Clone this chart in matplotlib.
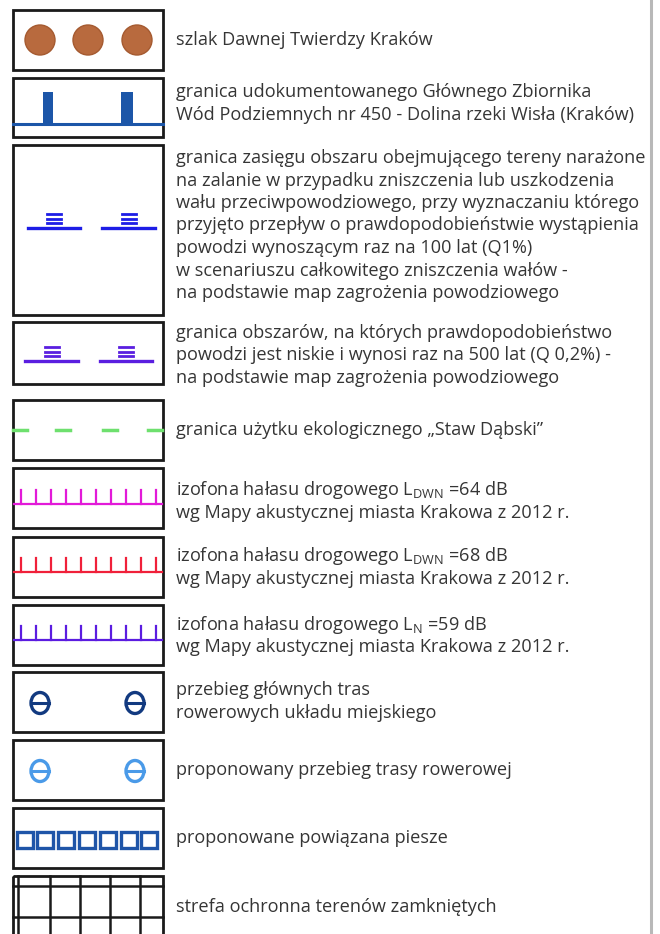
import matplotlib
matplotlib.use("Agg")
from matplotlib import pyplot as plt
from matplotlib.patches import Rectangle, Circle, Ellipse

plt.rcParams['font.family'] = ['Open Sans', 'DejaVu Sans']

# legend entries, one list of text lines per box
labels = [
    ["szlak Dawnej Twierdzy Kraków"],
    ["granica udokumentowanego Głównego Zbiornika",
     "Wód Podziemnych nr 450 - Dolina rzeki Wisła (Kraków)"],
    ["granica zasięgu obszaru obejmującego tereny narażone",
     "na zalanie w przypadku zniszczenia lub uszkodzenia",
     "wału przeciwpowodziowego, przy wyznaczaniu którego",
     "przyjęto przepływ o prawdopodobieństwie wystąpienia",
     "powodzi wynoszącym raz na 100 lat (Q1%)",
     "w scenariuszu całkowitego zniszczenia wałów -",
     "na podstawie map zagrożenia powodziowego"],
    ["granica obszarów, na których prawdopodobieństwo",
     "powodzi jest niskie i wynosi raz na 500 lat (Q 0,2%) -",
     "na podstawie map zagrożenia powodziowego"],
    ["granica użytku ekologicznego „Staw Dąbski”"],
    ["izofona hałasu drogowego $\\mathregular{L_{DWN}}$ =64 dB",
     "wg Mapy akustycznej miasta Krakowa z 2012 r."],
    ["izofona hałasu drogowego $\\mathregular{L_{DWN}}$ =68 dB",
     "wg Mapy akustycznej miasta Krakowa z 2012 r."],
    ["izofona hałasu drogowego $\\mathregular{L_{N}}$ =59 dB",
     "wg Mapy akustycznej miasta Krakowa z 2012 r."],
    ["przebieg głównych tras",
     "rowerowych układu miejskiego"],
    ["proponowany przebieg trasy rowerowej"],
    ["proponowane powiązana piesze"],
    ["strefa ochronna terenów zamkniętych"],
]

# box top / bottom in pixels
box_top = [10, 78, 145, 322, 400, 468, 537, 605, 672, 740, 808, 876]
box_bot = [70, 137, 315, 384, 460, 528, 597, 665, 732, 800, 868, 960]
text_y0 = [40, 92, 158, 333, 430, 490, 556, 625, 690, 770, 838, 907]

BX0, BX1 = 13, 163
TX = 176
LINE = 22.5

fig = plt.figure(figsize=(6.6, 9.34), dpi=100)
ax = fig.add_axes([0, 0, 1, 1])
ax.set_xlim(0, 660)
ax.set_ylim(934, 0)
ax.axis('off')

# frames
for t, b in zip(box_top, box_bot):
    ax.add_patch(Rectangle((BX0, t), BX1 - BX0, b - t, fill=False,
                           edgecolor='#1a1a1a', linewidth=2.0))

# texts
for lines, y0 in zip(labels, text_y0):
    for i, s in enumerate(lines):
        ax.text(TX, y0 + i * LINE, s, fontsize=13.1, color='#353535',
                va='center', ha='left')

# right grey rule
ax.plot([651, 651], [0, 934], color='#b8b8b8', linewidth=2.2)

# 1: fortress trail dots
for x in [40, 88, 137]:
    ax.add_patch(Circle((x, 40), 15, facecolor='#b86a3e', edgecolor='#a55a30', linewidth=1))

# 2: groundwater reservoir boundary
ax.plot([BX0, BX1], [124, 124], color='#1c56a8', linewidth=2.2)
for x0, x1 in [(43, 53), (121, 133)]:
    ax.add_patch(Rectangle((x0, 92), x1 - x0, 32, facecolor='#1c56a8', edgecolor='none'))

# 3 & 4: flood zone symbols
def flood(xs, base, col):
    for x0, x1 in xs:
        ax.plot([x0, x1], [base, base], color=col, linewidth=2.4)
        xc = (x0 + x1) / 2
        for k in range(3):
            yy = base - 5 - k * 4.5
            ax.plot([xc - 7, xc + 7], [yy, yy], color=col, linewidth=2.0)

flood([(28, 80), (102, 155)], 228, '#1d1de6')
flood([(25, 78), (100, 152)], 361, '#5a1ee0')

# 5: ecological area boundary (green dashes)
for x in [20, 63, 110, 155]:
    ax.plot([x - 7, x + 7], [430, 430], color='#6ee06e', linewidth=2.5)

# 6-8: noise isophones
def ticks(base, col):
    ax.plot([BX0 + 1, BX1 - 1], [base, base], color=col, linewidth=1.6)
    for k in range(10):
        x = 21 + k * 15
        ax.plot([x, x], [base, base - 14], color=col, linewidth=1.6)

ticks(504, '#e21ad8')
ticks(572, '#f0203a')
ticks(640, '#5b1ce0')

# 9 & 10: bicycle routes
def theta(y, col):
    for x in [40, 135]:
        ax.add_patch(Ellipse((x, y), 18, 21, fill=False, edgecolor=col, linewidth=2.4))
        ax.plot([x - 9, x + 9], [y, y], color=col, linewidth=2.2)

theta(703, '#123a80')
theta(771, '#4a9ae8')

# 11: pedestrian links
for k in range(7):
    x0 = 16.5 + k * 20.8
    ax.add_patch(Rectangle((x0, 832), 16, 16, fill=False, edgecolor='#1f55a8', linewidth=2.4))

# 12: closed area protection grid
for x in [18, 50, 80, 110, 140]:
    ax.plot([x, x], [876, 934], color='#1a1a1a', linewidth=1.8)
for y in [886, 917]:
    ax.plot([BX0, BX1], [y, y], color='#1a1a1a', linewidth=1.8)

fig.savefig('out.png', dpi=100, facecolor='white')
